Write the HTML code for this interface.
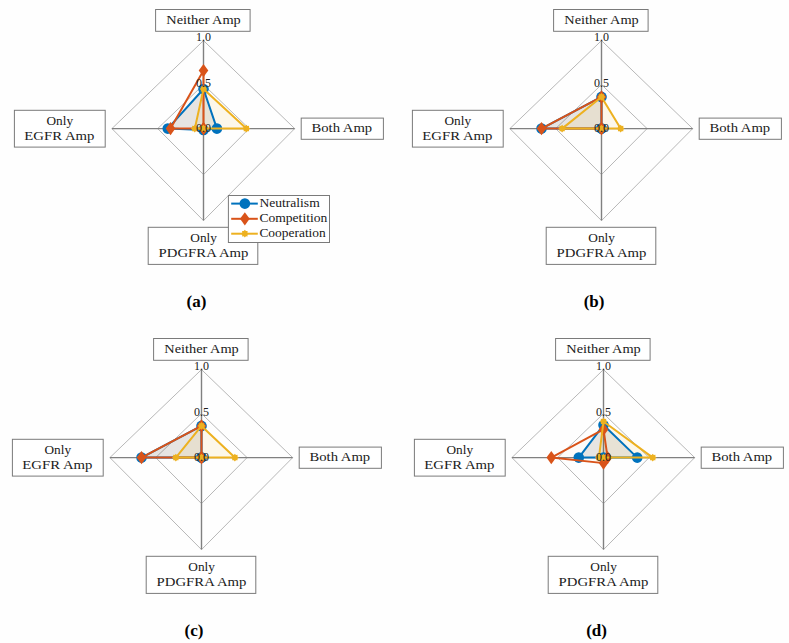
<!DOCTYPE html>
<html><head><meta charset="utf-8"><style>
html,body{margin:0;padding:0;background:#fff;}
body{width:789px;height:643px;overflow:hidden;}
svg{display:block;font-family:"Liberation Serif", serif;}
</style></head><body>
<svg width="789" height="643" viewBox="0 0 789 643">
<rect width="789" height="643" fill="#fefefe"/>
<path d="M203.50 40.60L294.70 128.60L203.50 220.60L111.90 128.60Z" fill="none" stroke="#b8b8b8" stroke-width="1"/>
<path d="M203.50 84.60L249.10 128.60L203.50 174.60L157.70 128.60Z" fill="none" stroke="#b8b8b8" stroke-width="1"/>
<path d="M203.50 40.60V220.60M111.90 128.60H294.70" stroke="#808080" stroke-width="1.4" fill="none"/>
<path d="M203.50 89.00L216.91 128.60L203.50 129.98L167.78 128.60Z" fill="#000000" fill-opacity="0.09" stroke="none"/>
<path d="M203.50 70.52L203.50 128.60L203.50 128.60L170.52 128.60Z" fill="#D95319" fill-opacity="0.02" stroke="none"/>
<path d="M203.50 89.00L246.36 128.60L203.50 128.60L194.80 128.60Z" fill="#EDB120" fill-opacity="0.09" stroke="none"/>
<path d="M203.50 89.00L216.91 128.60L203.50 129.98L167.78 128.60Z" fill="none" stroke="#0072BD" stroke-width="2" stroke-linejoin="round"/>
<circle cx="203.50" cy="89.00" r="5.3" fill="#0072BD"/>
<circle cx="216.91" cy="128.60" r="5.3" fill="#0072BD"/>
<circle cx="203.50" cy="129.98" r="5.3" fill="#0072BD"/>
<circle cx="167.78" cy="128.60" r="5.3" fill="#0072BD"/>
<path d="M203.50 70.52L203.50 128.60L203.50 128.60L170.52 128.60Z" fill="none" stroke="#D95319" stroke-width="2" stroke-linejoin="round"/>
<path d="M203.50 63.92L208.30 70.52L203.50 77.12L198.70 70.52Z" fill="#D95319"/>
<path d="M203.50 122.00L208.30 128.60L203.50 135.20L198.70 128.60Z" fill="#D95319"/>
<path d="M203.50 122.00L208.30 128.60L203.50 135.20L198.70 128.60Z" fill="#D95319"/>
<path d="M170.52 122.00L175.32 128.60L170.52 135.20L165.72 128.60Z" fill="#D95319"/>
<path d="M203.50 89.00L246.36 128.60L203.50 128.60L194.80 128.60Z" fill="none" stroke="#EDB120" stroke-width="2" stroke-linejoin="round"/>
<path d="M203.50 85.10L204.57 86.41L206.26 86.24L206.09 87.93L207.40 89.00L206.09 90.07L206.26 91.76L204.57 91.59L203.50 92.90L202.43 91.59L200.74 91.76L200.91 90.07L199.60 89.00L200.91 87.93L200.74 86.24L202.43 86.41Z" fill="#EDB120"/>
<path d="M246.36 124.70L247.44 126.01L249.12 125.84L248.96 127.53L250.26 128.60L248.96 129.67L249.12 131.36L247.44 131.19L246.36 132.50L245.29 131.19L243.61 131.36L243.77 129.67L242.46 128.60L243.77 127.53L243.61 125.84L245.29 126.01Z" fill="#EDB120"/>
<path d="M203.50 124.70L204.57 126.01L206.26 125.84L206.09 127.53L207.40 128.60L206.09 129.67L206.26 131.36L204.57 131.19L203.50 132.50L202.43 131.19L200.74 131.36L200.91 129.67L199.60 128.60L200.91 127.53L200.74 125.84L202.43 126.01Z" fill="#EDB120"/>
<path d="M194.80 124.70L195.87 126.01L197.56 125.84L197.39 127.53L198.70 128.60L197.39 129.67L197.56 131.36L195.87 131.19L194.80 132.50L193.72 131.19L192.04 131.36L192.20 129.67L190.90 128.60L192.20 127.53L192.04 125.84L193.72 126.01Z" fill="#EDB120"/>
<text x="203.50" y="40.60" font-size="12" text-anchor="middle" font-weight="normal" fill="#202020">1.0</text>
<text x="203.50" y="86.80" font-size="12" text-anchor="middle" font-weight="normal" fill="#202020">0.5</text>
<text x="203.50" y="131.60" font-size="12" text-anchor="middle" font-weight="normal" fill="#202020">0.0</text>
<rect x="155.60" y="9.50" width="94.50" height="21.80" fill="#fff" stroke="#7a7a7a" stroke-width="1"/>
<text x="166.30" y="23.60" font-size="13.5" text-anchor="start" font-weight="normal" fill="#202020" textLength="74.5" lengthAdjust="spacingAndGlyphs">Neither Amp</text>
<rect x="14.40" y="110.30" width="90.80" height="36.80" fill="#fff" stroke="#7a7a7a" stroke-width="1"/>
<text x="59.80" y="124.50" font-size="13.5" text-anchor="middle" font-weight="normal" fill="#202020" textLength="26.6" lengthAdjust="spacingAndGlyphs">Only</text>
<text x="24.30" y="139.90" font-size="13.5" text-anchor="start" font-weight="normal" fill="#202020" textLength="70.1" lengthAdjust="spacingAndGlyphs">EGFR Amp</text>
<rect x="301.20" y="118.10" width="82.20" height="21.20" fill="#fff" stroke="#7a7a7a" stroke-width="1"/>
<text x="311.50" y="131.90" font-size="13.5" text-anchor="start" font-weight="normal" fill="#202020" textLength="60.7" lengthAdjust="spacingAndGlyphs">Both Amp</text>
<rect x="148.20" y="227.30" width="109.60" height="37.10" fill="#fff" stroke="#7a7a7a" stroke-width="1"/>
<text x="203.60" y="241.60" font-size="13.5" text-anchor="middle" font-weight="normal" fill="#202020" textLength="26.6" lengthAdjust="spacingAndGlyphs">Only</text>
<text x="158.60" y="256.60" font-size="13.5" text-anchor="start" font-weight="normal" fill="#202020" textLength="89.8" lengthAdjust="spacingAndGlyphs">PDGFRA Amp</text>
<rect x="228.40" y="195.50" width="101.10" height="47.00" fill="#fff" stroke="#7a7a7a" stroke-width="1"/>
<path d="M231.2 203.6H257.8" stroke="#0072BD" stroke-width="2"/>
<circle cx="244.85" cy="203.60" r="5.3" fill="#0072BD"/>
<text x="259.40" y="206.80" font-size="12.5" text-anchor="start" font-weight="normal" fill="#202020" textLength="60.3" lengthAdjust="spacingAndGlyphs">Neutralism</text>
<path d="M231.2 218.8H257.8" stroke="#D95319" stroke-width="2"/>
<path d="M244.85 212.20L249.65 218.80L244.85 225.40L240.05 218.80Z" fill="#D95319"/>
<text x="259.40" y="222.00" font-size="12.5" text-anchor="start" font-weight="normal" fill="#202020" textLength="67.9" lengthAdjust="spacingAndGlyphs">Competition</text>
<path d="M231.2 233.7H257.8" stroke="#EDB120" stroke-width="2"/>
<path d="M244.85 229.80L245.92 231.11L247.61 230.94L247.44 232.63L248.75 233.70L247.44 234.77L247.61 236.46L245.92 236.29L244.85 237.60L243.78 236.29L242.09 236.46L242.26 234.77L240.95 233.70L242.26 232.63L242.09 230.94L243.78 231.11Z" fill="#EDB120"/>
<text x="259.40" y="236.90" font-size="12.5" text-anchor="start" font-weight="normal" fill="#202020" textLength="66.4" lengthAdjust="spacingAndGlyphs">Cooperation</text>
<text x="196.40" y="307.30" font-size="17" text-anchor="middle" font-weight="bold" fill="#000">(a)</text>
<path d="M601.50 40.60L692.70 128.60L601.50 220.60L509.90 128.60Z" fill="none" stroke="#b8b8b8" stroke-width="1"/>
<path d="M601.50 84.60L647.10 128.60L601.50 174.60L555.70 128.60Z" fill="none" stroke="#b8b8b8" stroke-width="1"/>
<path d="M601.50 40.60V220.60M509.90 128.60H692.70" stroke="#808080" stroke-width="1.4" fill="none"/>
<path d="M601.50 96.92L601.50 128.60L601.50 128.60L541.50 128.60Z" fill="#000000" fill-opacity="0.09" stroke="none"/>
<path d="M601.50 96.92L601.50 128.60L601.50 128.60L541.50 128.60Z" fill="#D95319" fill-opacity="0.02" stroke="none"/>
<path d="M601.50 96.92L620.65 128.60L601.50 128.60L562.11 128.60Z" fill="#EDB120" fill-opacity="0.09" stroke="none"/>
<path d="M601.50 96.92L601.50 128.60L601.50 128.60L541.50 128.60Z" fill="none" stroke="#0072BD" stroke-width="2" stroke-linejoin="round"/>
<circle cx="601.50" cy="96.92" r="5.3" fill="#0072BD"/>
<circle cx="601.50" cy="128.60" r="5.3" fill="#0072BD"/>
<circle cx="601.50" cy="128.60" r="5.3" fill="#0072BD"/>
<circle cx="541.50" cy="128.60" r="5.3" fill="#0072BD"/>
<path d="M601.50 96.92L601.50 128.60L601.50 128.60L541.50 128.60Z" fill="none" stroke="#D95319" stroke-width="2" stroke-linejoin="round"/>
<path d="M601.50 90.32L606.30 96.92L601.50 103.52L596.70 96.92Z" fill="#D95319"/>
<path d="M601.50 122.00L606.30 128.60L601.50 135.20L596.70 128.60Z" fill="#D95319"/>
<path d="M601.50 122.00L606.30 128.60L601.50 135.20L596.70 128.60Z" fill="#D95319"/>
<path d="M541.50 122.00L546.30 128.60L541.50 135.20L536.70 128.60Z" fill="#D95319"/>
<path d="M601.50 96.92L620.65 128.60L601.50 128.60L562.11 128.60Z" fill="none" stroke="#EDB120" stroke-width="2" stroke-linejoin="round"/>
<path d="M601.50 93.02L602.57 94.33L604.26 94.16L604.09 95.85L605.40 96.92L604.09 97.99L604.26 99.68L602.57 99.51L601.50 100.82L600.43 99.51L598.74 99.68L598.91 97.99L597.60 96.92L598.91 95.85L598.74 94.16L600.43 94.33Z" fill="#EDB120"/>
<path d="M620.65 124.70L621.73 126.01L623.41 125.84L623.25 127.53L624.55 128.60L623.25 129.67L623.41 131.36L621.73 131.19L620.65 132.50L619.58 131.19L617.89 131.36L618.06 129.67L616.75 128.60L618.06 127.53L617.89 125.84L619.58 126.01Z" fill="#EDB120"/>
<path d="M601.50 124.70L602.57 126.01L604.26 125.84L604.09 127.53L605.40 128.60L604.09 129.67L604.26 131.36L602.57 131.19L601.50 132.50L600.43 131.19L598.74 131.36L598.91 129.67L597.60 128.60L598.91 127.53L598.74 125.84L600.43 126.01Z" fill="#EDB120"/>
<path d="M562.11 124.70L563.19 126.01L564.87 125.84L564.71 127.53L566.01 128.60L564.71 129.67L564.87 131.36L563.19 131.19L562.11 132.50L561.04 131.19L559.35 131.36L559.52 129.67L558.21 128.60L559.52 127.53L559.35 125.84L561.04 126.01Z" fill="#EDB120"/>
<text x="601.50" y="40.60" font-size="12" text-anchor="middle" font-weight="normal" fill="#202020">1.0</text>
<text x="601.50" y="86.80" font-size="12" text-anchor="middle" font-weight="normal" fill="#202020">0.5</text>
<text x="601.50" y="131.60" font-size="12" text-anchor="middle" font-weight="normal" fill="#202020">0.0</text>
<rect x="553.60" y="9.50" width="94.50" height="21.80" fill="#fff" stroke="#7a7a7a" stroke-width="1"/>
<text x="564.30" y="23.60" font-size="13.5" text-anchor="start" font-weight="normal" fill="#202020" textLength="74.5" lengthAdjust="spacingAndGlyphs">Neither Amp</text>
<rect x="412.40" y="110.30" width="90.80" height="36.80" fill="#fff" stroke="#7a7a7a" stroke-width="1"/>
<text x="457.80" y="124.50" font-size="13.5" text-anchor="middle" font-weight="normal" fill="#202020" textLength="26.6" lengthAdjust="spacingAndGlyphs">Only</text>
<text x="422.30" y="139.90" font-size="13.5" text-anchor="start" font-weight="normal" fill="#202020" textLength="70.1" lengthAdjust="spacingAndGlyphs">EGFR Amp</text>
<rect x="699.20" y="118.10" width="82.20" height="21.20" fill="#fff" stroke="#7a7a7a" stroke-width="1"/>
<text x="709.50" y="131.90" font-size="13.5" text-anchor="start" font-weight="normal" fill="#202020" textLength="60.7" lengthAdjust="spacingAndGlyphs">Both Amp</text>
<rect x="546.20" y="227.30" width="109.60" height="37.10" fill="#fff" stroke="#7a7a7a" stroke-width="1"/>
<text x="601.60" y="241.60" font-size="13.5" text-anchor="middle" font-weight="normal" fill="#202020" textLength="26.6" lengthAdjust="spacingAndGlyphs">Only</text>
<text x="556.60" y="256.60" font-size="13.5" text-anchor="start" font-weight="normal" fill="#202020" textLength="89.8" lengthAdjust="spacingAndGlyphs">PDGFRA Amp</text>
<text x="594.10" y="307.30" font-size="17" text-anchor="middle" font-weight="bold" fill="#000">(b)</text>
<path d="M201.50 369.60L292.70 457.60L201.50 549.60L109.90 457.60Z" fill="none" stroke="#b8b8b8" stroke-width="1"/>
<path d="M201.50 413.60L247.10 457.60L201.50 503.60L155.70 457.60Z" fill="none" stroke="#b8b8b8" stroke-width="1"/>
<path d="M201.50 369.60V549.60M109.90 457.60H292.70" stroke="#808080" stroke-width="1.4" fill="none"/>
<path d="M201.50 425.92L201.50 457.60L201.50 457.60L141.50 457.60Z" fill="#000000" fill-opacity="0.09" stroke="none"/>
<path d="M201.50 425.92L201.50 457.60L201.50 457.60L141.50 457.60Z" fill="#D95319" fill-opacity="0.02" stroke="none"/>
<path d="M201.50 425.92L234.88 457.60L201.50 457.60L175.85 457.60Z" fill="#EDB120" fill-opacity="0.09" stroke="none"/>
<path d="M201.50 425.92L201.50 457.60L201.50 457.60L141.50 457.60Z" fill="none" stroke="#0072BD" stroke-width="2" stroke-linejoin="round"/>
<circle cx="201.50" cy="425.92" r="5.3" fill="#0072BD"/>
<circle cx="201.50" cy="457.60" r="5.3" fill="#0072BD"/>
<circle cx="201.50" cy="457.60" r="5.3" fill="#0072BD"/>
<circle cx="141.50" cy="457.60" r="5.3" fill="#0072BD"/>
<path d="M201.50 425.92L201.50 457.60L201.50 457.60L141.50 457.60Z" fill="none" stroke="#D95319" stroke-width="2" stroke-linejoin="round"/>
<path d="M201.50 419.32L206.30 425.92L201.50 432.52L196.70 425.92Z" fill="#D95319"/>
<path d="M201.50 451.00L206.30 457.60L201.50 464.20L196.70 457.60Z" fill="#D95319"/>
<path d="M201.50 451.00L206.30 457.60L201.50 464.20L196.70 457.60Z" fill="#D95319"/>
<path d="M141.50 451.00L146.30 457.60L141.50 464.20L136.70 457.60Z" fill="#D95319"/>
<path d="M201.50 425.92L234.88 457.60L201.50 457.60L175.85 457.60Z" fill="none" stroke="#EDB120" stroke-width="2" stroke-linejoin="round"/>
<path d="M201.50 422.02L202.57 423.33L204.26 423.16L204.09 424.85L205.40 425.92L204.09 426.99L204.26 428.68L202.57 428.51L201.50 429.82L200.43 428.51L198.74 428.68L198.91 426.99L197.60 425.92L198.91 424.85L198.74 423.16L200.43 423.33Z" fill="#EDB120"/>
<path d="M234.88 453.70L235.95 455.01L237.64 454.84L237.47 456.53L238.78 457.60L237.47 458.67L237.64 460.36L235.95 460.19L234.88 461.50L233.80 460.19L232.12 460.36L232.28 458.67L230.98 457.60L232.28 456.53L232.12 454.84L233.80 455.01Z" fill="#EDB120"/>
<path d="M201.50 453.70L202.57 455.01L204.26 454.84L204.09 456.53L205.40 457.60L204.09 458.67L204.26 460.36L202.57 460.19L201.50 461.50L200.43 460.19L198.74 460.36L198.91 458.67L197.60 457.60L198.91 456.53L198.74 454.84L200.43 455.01Z" fill="#EDB120"/>
<path d="M175.85 453.70L176.93 455.01L178.61 454.84L178.45 456.53L179.75 457.60L178.45 458.67L178.61 460.36L176.93 460.19L175.85 461.50L174.78 460.19L173.09 460.36L173.26 458.67L171.95 457.60L173.26 456.53L173.09 454.84L174.78 455.01Z" fill="#EDB120"/>
<text x="201.50" y="369.60" font-size="12" text-anchor="middle" font-weight="normal" fill="#202020">1.0</text>
<text x="201.50" y="415.80" font-size="12" text-anchor="middle" font-weight="normal" fill="#202020">0.5</text>
<text x="201.50" y="460.60" font-size="12" text-anchor="middle" font-weight="normal" fill="#202020">0.0</text>
<rect x="153.60" y="338.50" width="94.50" height="21.80" fill="#fff" stroke="#7a7a7a" stroke-width="1"/>
<text x="164.30" y="352.60" font-size="13.5" text-anchor="start" font-weight="normal" fill="#202020" textLength="74.5" lengthAdjust="spacingAndGlyphs">Neither Amp</text>
<rect x="12.40" y="439.30" width="90.80" height="36.80" fill="#fff" stroke="#7a7a7a" stroke-width="1"/>
<text x="57.80" y="453.50" font-size="13.5" text-anchor="middle" font-weight="normal" fill="#202020" textLength="26.6" lengthAdjust="spacingAndGlyphs">Only</text>
<text x="22.30" y="468.90" font-size="13.5" text-anchor="start" font-weight="normal" fill="#202020" textLength="70.1" lengthAdjust="spacingAndGlyphs">EGFR Amp</text>
<rect x="299.20" y="447.10" width="82.20" height="21.20" fill="#fff" stroke="#7a7a7a" stroke-width="1"/>
<text x="309.50" y="460.90" font-size="13.5" text-anchor="start" font-weight="normal" fill="#202020" textLength="60.7" lengthAdjust="spacingAndGlyphs">Both Amp</text>
<rect x="146.20" y="556.30" width="109.60" height="37.10" fill="#fff" stroke="#7a7a7a" stroke-width="1"/>
<text x="201.60" y="570.60" font-size="13.5" text-anchor="middle" font-weight="normal" fill="#202020" textLength="26.6" lengthAdjust="spacingAndGlyphs">Only</text>
<text x="156.60" y="585.60" font-size="13.5" text-anchor="start" font-weight="normal" fill="#202020" textLength="89.8" lengthAdjust="spacingAndGlyphs">PDGFRA Amp</text>
<text x="194.00" y="636.30" font-size="17" text-anchor="middle" font-weight="bold" fill="#000">(c)</text>
<path d="M603.50 369.60L694.70 457.60L603.50 549.60L511.90 457.60Z" fill="none" stroke="#b8b8b8" stroke-width="1"/>
<path d="M603.50 413.60L649.10 457.60L603.50 503.60L557.70 457.60Z" fill="none" stroke="#b8b8b8" stroke-width="1"/>
<path d="M603.50 369.60V549.60M511.90 457.60H694.70" stroke="#808080" stroke-width="1.4" fill="none"/>
<path d="M603.50 425.04L637.24 457.60L603.50 457.60L578.77 457.60Z" fill="#000000" fill-opacity="0.09" stroke="none"/>
<path d="M603.50 429.44L607.60 457.60L603.50 463.12L551.29 457.60Z" fill="#D95319" fill-opacity="0.02" stroke="none"/>
<path d="M603.50 421.52L652.75 457.60L603.50 457.60L598.92 457.60Z" fill="#EDB120" fill-opacity="0.09" stroke="none"/>
<path d="M603.50 425.04L637.24 457.60L603.50 457.60L578.77 457.60Z" fill="none" stroke="#0072BD" stroke-width="2" stroke-linejoin="round"/>
<circle cx="603.50" cy="425.04" r="5.3" fill="#0072BD"/>
<circle cx="637.24" cy="457.60" r="5.3" fill="#0072BD"/>
<circle cx="603.50" cy="457.60" r="5.3" fill="#0072BD"/>
<circle cx="578.77" cy="457.60" r="5.3" fill="#0072BD"/>
<path d="M603.50 429.44L607.60 457.60L603.50 463.12L551.29 457.60Z" fill="none" stroke="#D95319" stroke-width="2" stroke-linejoin="round"/>
<path d="M603.50 422.84L608.30 429.44L603.50 436.04L598.70 429.44Z" fill="#D95319"/>
<path d="M607.60 451.00L612.40 457.60L607.60 464.20L602.80 457.60Z" fill="#D95319"/>
<path d="M603.50 456.52L608.30 463.12L603.50 469.72L598.70 463.12Z" fill="#D95319"/>
<path d="M551.29 451.00L556.09 457.60L551.29 464.20L546.49 457.60Z" fill="#D95319"/>
<path d="M603.50 421.52L652.75 457.60L603.50 457.60L598.92 457.60Z" fill="none" stroke="#EDB120" stroke-width="2" stroke-linejoin="round"/>
<path d="M603.50 417.62L604.57 418.93L606.26 418.76L606.09 420.45L607.40 421.52L606.09 422.59L606.26 424.28L604.57 424.11L603.50 425.42L602.43 424.11L600.74 424.28L600.91 422.59L599.60 421.52L600.91 420.45L600.74 418.76L602.43 418.93Z" fill="#EDB120"/>
<path d="M652.75 453.70L653.82 455.01L655.51 454.84L655.34 456.53L656.65 457.60L655.34 458.67L655.51 460.36L653.82 460.19L652.75 461.50L651.67 460.19L649.99 460.36L650.15 458.67L648.85 457.60L650.15 456.53L649.99 454.84L651.67 455.01Z" fill="#EDB120"/>
<path d="M603.50 453.70L604.57 455.01L606.26 454.84L606.09 456.53L607.40 457.60L606.09 458.67L606.26 460.36L604.57 460.19L603.50 461.50L602.43 460.19L600.74 460.36L600.91 458.67L599.60 457.60L600.91 456.53L600.74 454.84L602.43 455.01Z" fill="#EDB120"/>
<path d="M598.92 453.70L599.99 455.01L601.68 454.84L601.51 456.53L602.82 457.60L601.51 458.67L601.68 460.36L599.99 460.19L598.92 461.50L597.85 460.19L596.16 460.36L596.33 458.67L595.02 457.60L596.33 456.53L596.16 454.84L597.85 455.01Z" fill="#EDB120"/>
<text x="603.50" y="369.60" font-size="12" text-anchor="middle" font-weight="normal" fill="#202020">1.0</text>
<text x="603.50" y="415.80" font-size="12" text-anchor="middle" font-weight="normal" fill="#202020">0.5</text>
<text x="603.50" y="460.60" font-size="12" text-anchor="middle" font-weight="normal" fill="#202020">0.0</text>
<rect x="555.60" y="338.50" width="94.50" height="21.80" fill="#fff" stroke="#7a7a7a" stroke-width="1"/>
<text x="566.30" y="352.60" font-size="13.5" text-anchor="start" font-weight="normal" fill="#202020" textLength="74.5" lengthAdjust="spacingAndGlyphs">Neither Amp</text>
<rect x="414.40" y="439.30" width="90.80" height="36.80" fill="#fff" stroke="#7a7a7a" stroke-width="1"/>
<text x="459.80" y="453.50" font-size="13.5" text-anchor="middle" font-weight="normal" fill="#202020" textLength="26.6" lengthAdjust="spacingAndGlyphs">Only</text>
<text x="424.30" y="468.90" font-size="13.5" text-anchor="start" font-weight="normal" fill="#202020" textLength="70.1" lengthAdjust="spacingAndGlyphs">EGFR Amp</text>
<rect x="701.20" y="447.10" width="82.20" height="21.20" fill="#fff" stroke="#7a7a7a" stroke-width="1"/>
<text x="711.50" y="460.90" font-size="13.5" text-anchor="start" font-weight="normal" fill="#202020" textLength="60.7" lengthAdjust="spacingAndGlyphs">Both Amp</text>
<rect x="548.20" y="556.30" width="109.60" height="37.10" fill="#fff" stroke="#7a7a7a" stroke-width="1"/>
<text x="603.60" y="570.60" font-size="13.5" text-anchor="middle" font-weight="normal" fill="#202020" textLength="26.6" lengthAdjust="spacingAndGlyphs">Only</text>
<text x="558.60" y="585.60" font-size="13.5" text-anchor="start" font-weight="normal" fill="#202020" textLength="89.8" lengthAdjust="spacingAndGlyphs">PDGFRA Amp</text>
<text x="596.60" y="636.30" font-size="17" text-anchor="middle" font-weight="bold" fill="#000">(d)</text>
</svg></body></html>
